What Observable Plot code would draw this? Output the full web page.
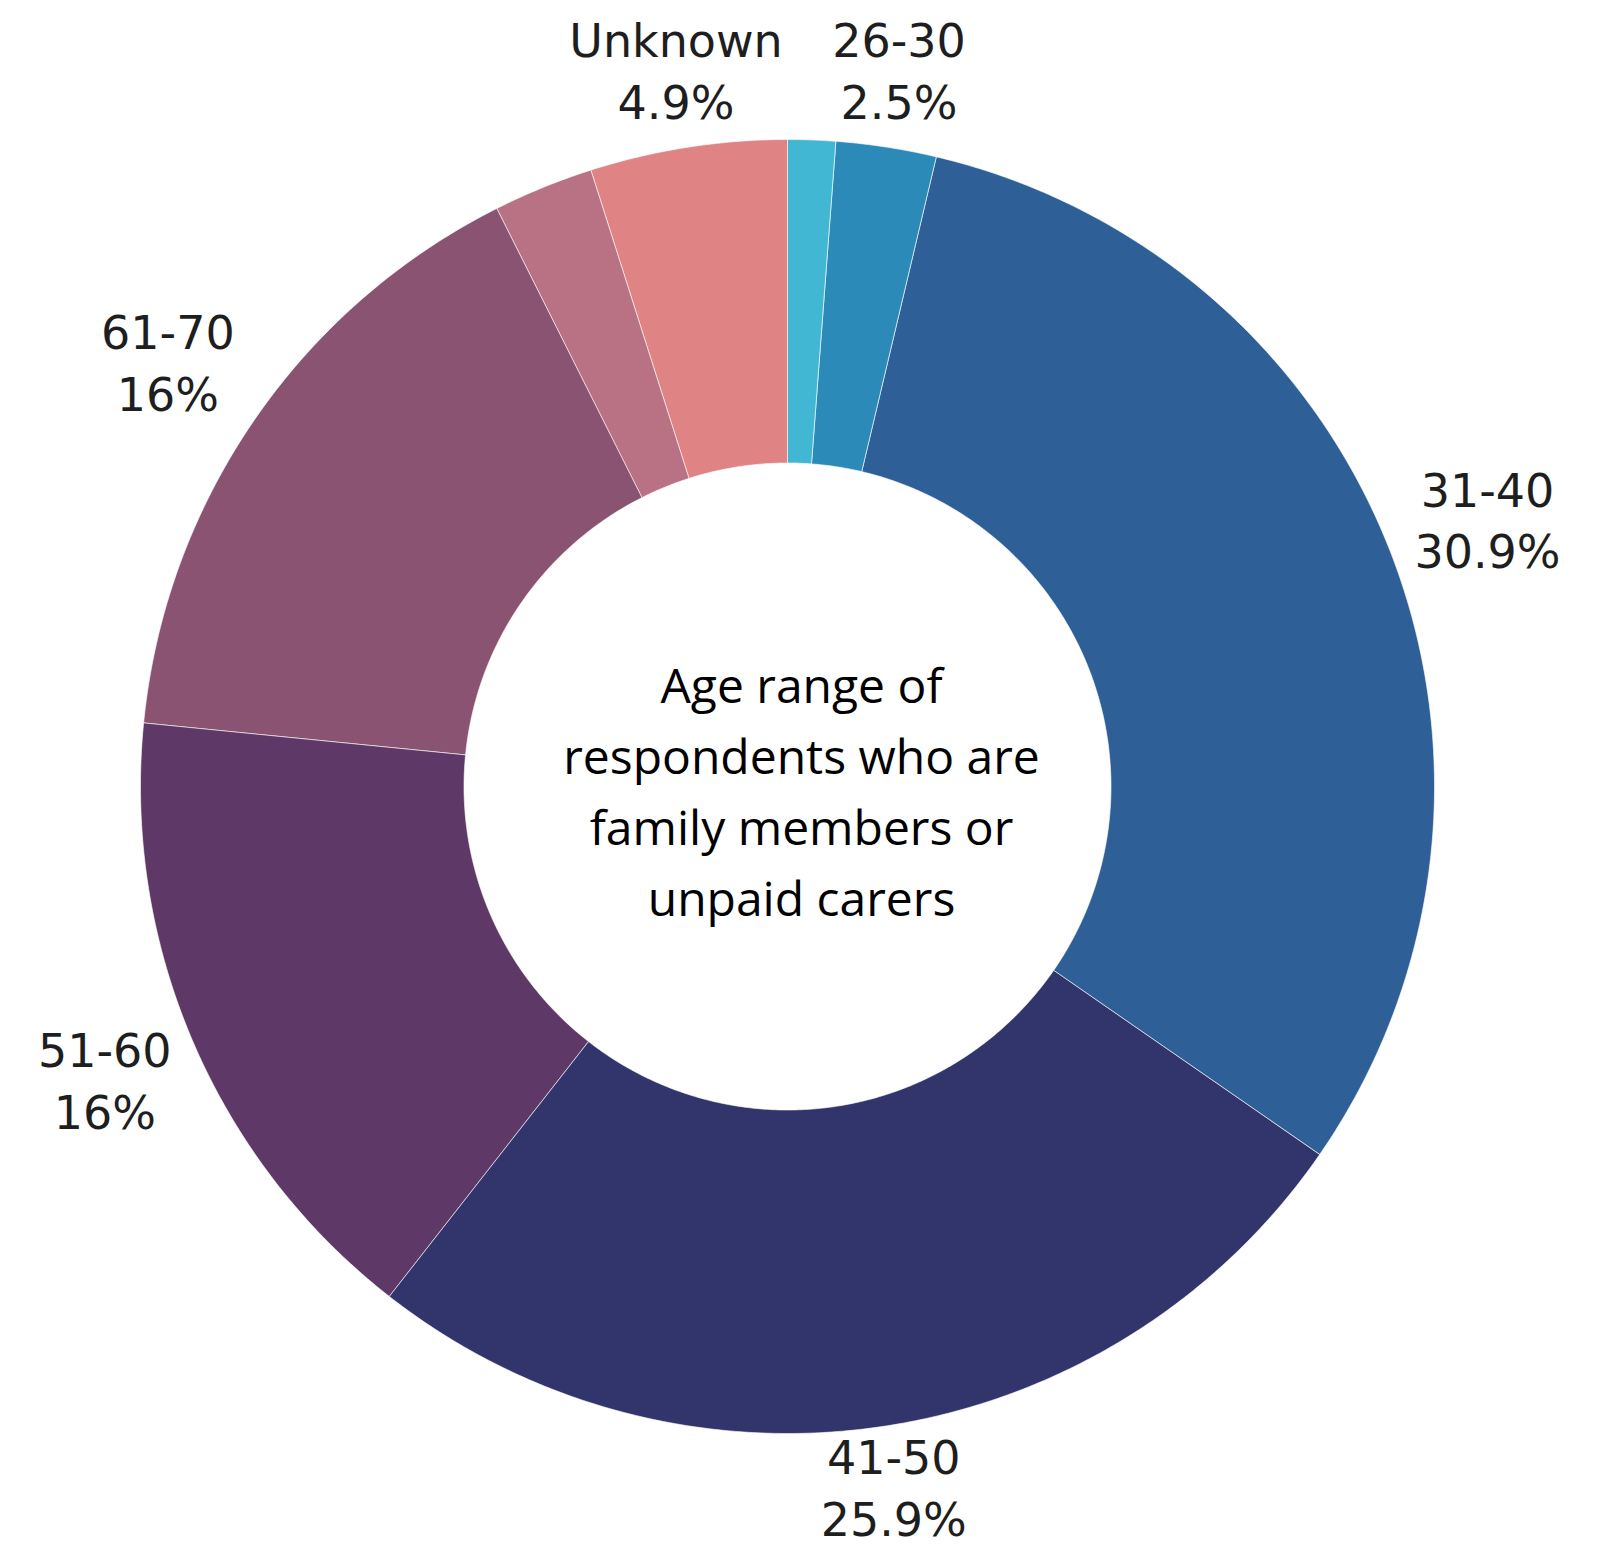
<!DOCTYPE html>
<html>
<head>
<meta charset="utf-8">
<script src="https://cdn.jsdelivr.net/npm/d3@7"></script>
<script src="https://cdn.jsdelivr.net/npm/@observablehq/plot@0.6"></script>
<style>
  html, body { margin: 0; padding: 0; background: #fff; }
  #chart svg { display: block; }
  g[aria-label="slice-labels"] text { letter-spacing: 1px; }
</style>
</head>
<body>
<div id="chart"></div>
<script>
// ---- data ----
const categories = ["18-25", "26-30", "31-40", "41-50", "51-60", "61-70", "71+", "Unknown"];
const values     = [1.2, 2.5, 30.9, 25.9, 16, 16, 2.5, 4.9];
const labelled   = [false, true, true, true, true, true, false, true];
const colors     = ["#42b7d4", "#2c8ab8", "#2e5f97", "#31356b", "#5e3866", "#8a5372", "#b87283", "#e08384"];
const centerTitle = "Age range of\nrespondents who are\nfamily members or\nunpaid carers";

// ---- geometry (in units of the outer radius) ----
const W = 1599, H = 1548;
const cx = 787, cy = 786, R = 647;       // pixel centre / outer radius
const inner = 0.5;
const total = d3.sum(values);

const slices = [];
let acc = 0;
categories.forEach((c, i) => {
  const a0 = acc / total * 2 * Math.PI;
  acc += values[i];
  const a1 = acc / total * 2 * Math.PI;
  slices.push({cat: c, value: values[i], a0, a1, labelled: labelled[i]});
});

// polygon points for each ring slice (angle measured clockwise from 12 o'clock)
const pts = [];
for (const s of slices) {
  const n = Math.max(4, Math.ceil((s.a1 - s.a0) / (Math.PI / 360)));
  for (let k = 0; k <= n; k++) {
    const a = s.a0 + (s.a1 - s.a0) * k / n;
    pts.push({cat: s.cat, x: Math.sin(a), y: Math.cos(a)});
  }
  for (let k = n; k >= 0; k--) {
    const a = s.a0 + (s.a1 - s.a0) * k / n;
    pts.push({cat: s.cat, x: inner * Math.sin(a), y: inner * Math.cos(a)});
  }
}

// outside labels at the slice mid-angle
const labels = slices.filter(s => s.labelled).map(s => {
  const a = (s.a0 + s.a1) / 2;
  const c = Math.cos(a);
  const rpx = R + 25 + Math.abs(c) * (c >= 0 ? 45 : 25) + Math.abs(Math.sin(a)) * 66;
  const r = rpx / R;
  return {x: r * Math.sin(a), y: r * c, text: `${s.cat}\n${s.value}%`};
});

const chart = Plot.plot({
  width: W,
  height: H,
  margin: 0,
  x: {domain: [-cx / R, (W - cx) / R], axis: null},
  y: {domain: [-(H - cy) / R, cy / R], axis: null},
  color: {domain: categories, range: colors},
  marks: [
    Plot.line(pts, {
      x: "x", y: "y", z: "cat", fill: "cat",
      stroke: "white", strokeWidth: 1, strokeOpacity: 0.6,
      curve: "linear-closed"
    }),
    Plot.text(labels, {
      x: "x", y: "y", text: "text", ariaLabel: "slice-labels",
      fontSize: 46, lineHeight: 1.34, lineAnchor: "middle",
      fontFamily: "DejaVu Sans", fontWeight: 400, fill: "#1e1e1e"
    }),
    Plot.text([centerTitle], {
      x: () => 0, y: () => 0, text: d => d,
      dx: 14, dy: 0,
      fontSize: 48, lineHeight: 1.48, lineAnchor: "middle",
      fontFamily: "Open Sans", fill: "#000"
    })
  ]
});

document.getElementById("chart").append(chart);
</script>
</body>
</html>
